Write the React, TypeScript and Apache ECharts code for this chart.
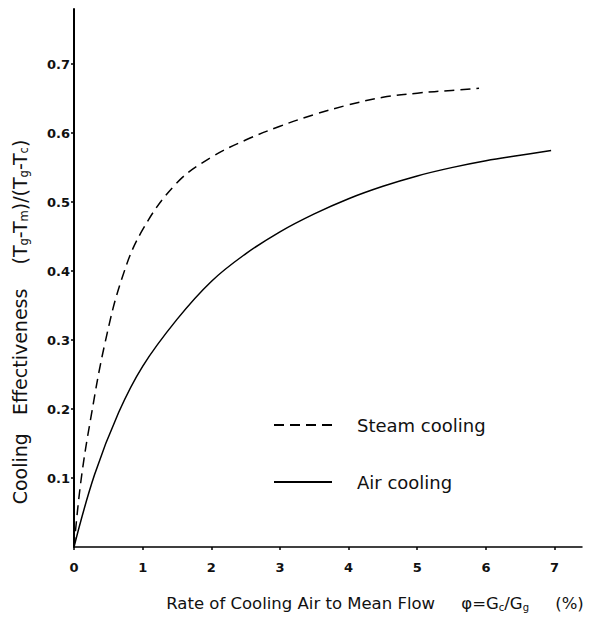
import React, { useEffect, useRef } from "react";
import * as echarts from "echarts";

const steamX = [0, 0.1, 0.25, 0.45, 0.7, 1.0, 1.5, 2.0, 2.5, 3.0, 3.5, 4.0, 4.5, 5.0, 5.5, 5.9];
const steamY = [0, 0.095, 0.19, 0.295, 0.39, 0.46, 0.528, 0.565, 0.59, 0.61, 0.627, 0.641, 0.652, 0.658, 0.662, 0.665];
const airX = [0, 0.3, 0.65, 1.0, 1.5, 2.0, 2.5, 3.0, 3.5, 4.0, 4.5, 5.0, 5.5, 6.0, 6.5, 6.95];
const airY = [0, 0.105, 0.195, 0.262, 0.33, 0.385, 0.425, 0.457, 0.483, 0.505, 0.523, 0.538, 0.55, 0.56, 0.568, 0.575];
const seriesNames = ["Steam cooling", "Air cooling"];
const xTitle = "Rate of Cooling Air to Mean Flow     φ=G{s|c}/G{s|g}     (%)";
const yTitle = "Cooling   Effectiveness    (T{s|g}-T{s|m})/(T{s|g}-T{s|c})";

const FONT = "DejaVu Sans";

export default function App() {
  const ref = useRef<HTMLDivElement>(null);
  useEffect(() => {
    if (!ref.current) return;
    const chart = echarts.init(ref.current, undefined, { renderer: "svg" });
    const pair = (xs: number[], ys: number[]) => xs.map((x, i) => [x, ys[i]]);
    chart.setOption({
      animation: false,
      backgroundColor: "#fff",
      grid: { left: 74, right: 27, top: 9, bottom: 83 },
      legend: {
        orient: "vertical",
        left: 268,
        top: 411,
        itemWidth: 58,
        itemHeight: 20,
        itemGap: 39,
        itemStyle: { opacity: 0 },
        textStyle: { fontFamily: FONT, fontSize: 18, color: "#111", padding: [0, 0, 0, 20] },
        data: seriesNames,
      },
      xAxis: {
        type: "value",
        min: 0,
        max: 7.4,
        interval: 1,
        name: xTitle,
        nameLocation: "middle",
        nameGap: 48,
        nameTextStyle: {
          fontFamily: FONT,
          fontSize: 16.5,
          color: "#111",
          padding: [0, 0, 0, 94],
          rich: { s: { fontFamily: FONT, fontSize: 10, color: "#111", padding: [7, 0, 0, 0] } },
        },
        axisLine: { lineStyle: { color: "#000", width: 1.5 } },
        axisTick: { show: true, length: 3, lineStyle: { color: "#000", width: 1.5 } },
        axisLabel: {
          showMaxLabel: false,
          fontFamily: FONT,
          fontWeight: "bold",
          fontSize: 13,
          color: "#111",
          margin: 14,
        },
        splitLine: { show: false },
      },
      yAxis: {
        type: "value",
        min: 0,
        max: 0.78,
        interval: 0.1,
        name: yTitle,
        nameLocation: "middle",
        nameRotate: 90,
        nameGap: 44,
        nameTextStyle: {
          fontFamily: FONT,
          fontSize: 19,
          color: "#111",
          padding: [0, 88, 0, 0],
          rich: { s: { fontFamily: FONT, fontSize: 11.5, color: "#111", padding: [8, 0, 0, 0] } },
        },
        axisLine: { show: true, lineStyle: { color: "#000", width: 2 } },
        axisTick: { show: true, length: 3, lineStyle: { color: "#000", width: 1.5 } },
        axisLabel: {
          showMinLabel: false,
          showMaxLabel: false,
          fontFamily: FONT,
          fontWeight: "bold",
          fontSize: 13,
          color: "#111",
          margin: 4,
          formatter: (v: number) => v.toFixed(1),
        },
        splitLine: { show: false },
      },
      series: [
        {
          name: seriesNames[0],
          type: "line",
          smooth: 0.4,
          symbol: "none",
          data: pair(steamX, steamY),
          lineStyle: { color: "#000", width: 1.5, type: [10, 6] },
          itemStyle: { color: "#000" },
        },
        {
          name: seriesNames[1],
          type: "line",
          smooth: 0.4,
          symbol: "none",
          data: pair(airX, airY),
          lineStyle: { color: "#000", width: 1.5 },
          itemStyle: { color: "#000" },
        },
      ],
    });
    return () => chart.dispose();
  }, []);
  return <div ref={ref} style={{ width: 609, height: 630, margin: -8 }} />;
}
